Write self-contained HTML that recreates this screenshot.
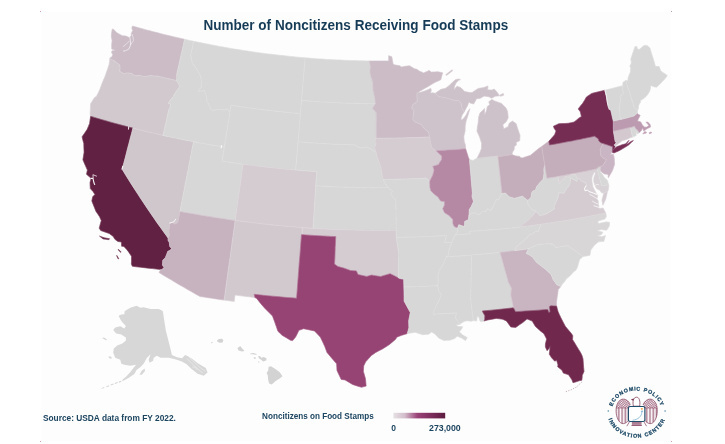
<!DOCTYPE html>
<html><head><meta charset="utf-8"><title>Number of Noncitizens Receiving Food Stamps</title>
<style>
html,body{margin:0;padding:0;background:#fff;}
body{width:725px;height:444px;overflow:hidden;position:relative;font-family:"Liberation Sans",sans-serif;}
#map{position:absolute;left:0;top:0;will-change:transform;}
#states use{stroke-width:0.6;stroke-linejoin:round;}
text{font-family:"Liberation Sans",sans-serif;font-weight:bold;}
</style></head><body>
<svg id="map" width="725" height="444" viewBox="0 0 725 444">
<defs>
<linearGradient id="lg" x1="0" x2="1" y1="0" y2="0">
<stop offset="0" stop-color="#e6e1e4"/><stop offset="0.22" stop-color="#d3bdcb"/><stop offset="0.46" stop-color="#9a4378"/><stop offset="0.75" stop-color="#7a2c5a"/><stop offset="1" stop-color="#5c1b3f"/>
</linearGradient>
</defs>
<rect x="41" y="11.8" width="630" height="429.4" fill="#fdfdfd"/>
<rect x="40" y="11" width="1" height="1" fill="#d9a0b8"/><rect x="671" y="11" width="1" height="1" fill="#b9a0a8"/><rect x="671" y="441" width="1" height="1" fill="#d9a0b8"/><rect x="40" y="441" width="1" height="1" fill="#d9a0b8"/>
<g id="states">
<defs><path id="sWA" d="M132.6,26.0L131.8,28.0L132.7,30.4L131.2,33.6L131.3,35.8L129.1,37.5L125.8,36.0L122.4,35.7L119.9,34.4L117.3,33.1L115.4,31.2L113.5,29.3L112.3,29.0L111.6,32.8L111.3,36.4L112.1,40.3L111.7,44.6L111.7,49.0L114.4,49.8L114.4,50.8L111.9,50.8L111.7,53.0L112.8,54.4L111.8,57.0L110.5,57.4L109.8,58.9L112.1,59.8L114.4,60.8L117.3,63.1L119.8,65.0L120.1,68.3L119.6,71.1L121.6,72.3L123.5,73.5L127.8,72.9L129.8,73.2L131.8,73.4L134.3,75.6L137.1,75.5L139.9,75.4L142.1,76.0L144.2,76.6L147.4,76.1L150.6,75.5L154.0,76.1L156.8,75.9L160.1,76.7L163.4,77.5L166.7,78.2L170.0,79.0L173.2,79.8L176.5,80.5L176.7,78.4L176.7,76.2L176.7,74.5L177.8,69.4L179.0,64.4L180.1,59.4L181.2,54.3L182.4,49.3L183.5,44.3L184.6,39.3L181.2,38.5L177.7,37.7L174.2,36.9L170.7,36.1L167.2,35.2L163.7,34.4L160.3,33.5L156.8,32.6L153.3,31.7L149.9,30.8L146.4,29.9L142.9,28.9L139.5,28.0L136.0,27.0Z"/>
<path id="sOR" d="M109.8,58.9L112.1,59.8L114.4,60.8L117.3,63.1L119.8,65.0L120.1,68.3L119.6,71.1L121.6,72.3L123.5,73.5L127.8,72.9L129.8,73.2L131.8,73.4L134.3,75.6L137.1,75.5L139.9,75.4L142.1,76.0L144.2,76.6L147.4,76.1L150.6,75.5L154.0,76.1L156.8,75.9L160.1,76.7L163.4,77.5L166.7,78.2L170.0,79.0L173.2,79.8L176.5,80.5L178.2,83.0L179.7,86.5L176.3,91.4L174.0,94.8L173.2,96.5L170.7,99.8L168.2,103.2L170.6,104.4L170.0,107.5L168.7,110.1L167.6,115.1L166.5,120.2L165.3,125.2L164.2,130.3L163.0,135.4L159.2,134.5L155.5,133.6L151.7,132.7L147.9,131.9L144.2,130.9L140.4,130.0L136.6,129.1L132.9,128.1L129.0,127.1L125.2,126.1L121.3,125.1L117.5,124.0L113.6,123.0L109.8,121.9L105.9,120.8L102.1,119.7L98.2,118.6L94.4,117.4L90.6,116.3L90.1,113.9L90.4,109.5L90.6,103.8L92.4,101.0L94.1,98.1L96.7,95.9L98.3,92.7L99.8,89.5L101.3,85.5L102.8,81.5L105.1,76.3L106.2,73.0L107.4,69.7L109.2,64.3L109.8,58.9Z"/>
<path id="sCA" d="M90.6,116.3L90.1,119.8L89.6,123.4L88.4,126.4L87.2,129.3L84.7,133.1L82.1,136.8L82.9,140.2L83.8,143.6L83.9,147.9L84.1,152.3L83.5,156.0L82.9,159.8L85.1,164.9L87.4,170.1L86.5,174.3L88.8,176.3L91.1,178.3L90.0,182.7L90.3,188.6L93.0,191.5L94.9,194.4L92.7,196.8L91.8,200.9L93.9,206.2L96.0,211.4L97.8,214.1L99.6,216.8L101.3,220.6L100.2,224.4L99.2,228.2L100.7,230.5L104.9,232.0L109.2,233.5L111.2,234.9L113.2,236.4L114.9,239.3L117.9,241.5L121.4,242.0L121.6,246.2L123.9,246.4L126.5,249.3L128.6,251.9L131.5,256.3L131.5,261.4L131.4,264.0L132.3,266.2L136.4,266.8L140.4,267.2L144.5,267.7L148.5,268.2L152.6,268.6L156.6,269.1L160.7,269.5L161.9,269.6L164.1,267.6L162.4,265.1L162.8,260.1L165.3,257.7L166.6,254.5L167.8,251.3L169.5,250.6L171.7,248.8L169.7,246.3L169.3,242.6L168.0,240.2L168.1,238.0L164.6,233.2L161.1,228.3L157.6,223.5L154.2,218.6L150.9,213.7L147.5,208.8L144.3,203.9L141.0,199.0L137.8,194.1L134.6,189.2L131.4,184.2L128.3,179.3L125.2,174.3L122.2,169.3L123.5,164.2L124.9,159.0L126.2,153.9L127.5,148.7L128.9,143.6L130.2,138.4L131.6,133.3L132.9,128.1L129.0,127.1L125.2,126.1L121.3,125.1L117.5,124.0L113.6,123.0L109.8,121.9L105.9,120.8L102.1,119.7L98.2,118.6L94.4,117.4ZM99.5,236.1L102.0,237.0L104.4,237.8L107.0,238.3L109.6,238.7L108.8,239.7L105.9,239.3L103.0,238.9ZM118.4,249.2L121.1,252.0L120.7,252.4L118.3,249.9ZM116.9,255.4L118.8,258.7L118.2,259.0L116.6,255.7Z"/>
<path id="sNV" d="M132.9,128.1L136.6,129.1L140.4,130.0L144.2,130.9L147.9,131.9L151.7,132.7L155.5,133.6L159.2,134.5L163.0,135.4L166.8,136.2L170.6,137.0L174.5,137.8L178.3,138.6L182.1,139.4L185.9,140.2L189.7,140.9L193.6,141.7L192.5,147.0L191.5,152.4L190.4,157.8L189.4,163.1L188.4,168.5L187.3,173.8L186.3,179.2L185.2,184.6L184.2,189.9L183.1,195.3L182.1,200.7L181.0,206.0L180.0,211.4L179.3,215.2L178.5,218.9L177.8,222.7L174.7,224.1L172.2,222.2L169.7,223.6L169.7,226.0L168.9,230.9L169.3,235.4L168.1,238.0L164.6,233.2L161.1,228.3L157.6,223.5L154.2,218.6L150.9,213.7L147.5,208.8L144.3,203.9L141.0,199.0L137.8,194.1L134.6,189.2L131.4,184.2L128.3,179.3L125.2,174.3L122.2,169.3L123.5,164.2L124.9,159.0L126.2,153.9L127.5,148.7L128.9,143.6L130.2,138.4L131.6,133.3Z"/>
<path id="sID" d="M184.6,39.3L187.7,40.0L190.7,40.7L193.7,41.3L192.7,45.9L191.7,50.6L190.7,55.2L191.5,59.1L192.3,63.1L193.9,65.2L195.5,67.3L198.1,71.7L200.8,76.4L201.2,79.9L201.2,83.5L201.5,87.1L199.1,89.2L198.2,91.3L201.3,91.0L204.4,90.7L205.3,93.6L206.7,96.7L206.8,101.5L208.7,104.1L210.6,108.9L211.8,110.5L214.7,109.9L217.7,109.3L221.7,109.7L225.7,110.0L226.2,108.6L228.0,109.4L229.9,112.6L229.1,117.5L228.3,122.4L227.5,127.3L226.7,132.3L225.9,137.2L225.1,142.1L224.3,147.1L220.5,146.4L216.6,145.8L212.8,145.2L208.9,144.5L205.1,143.8L201.2,143.1L197.4,142.4L193.6,141.7L189.7,140.9L185.9,140.2L182.1,139.4L178.3,138.6L174.5,137.8L170.6,137.0L166.8,136.2L163.0,135.4L164.2,130.3L165.3,125.2L166.5,120.2L167.6,115.1L168.7,110.1L170.0,107.5L170.6,104.4L168.2,103.2L170.7,99.8L173.2,96.5L174.0,94.8L176.3,91.4L179.7,86.5L178.2,83.0L176.5,80.5L176.7,78.4L176.7,76.2L176.7,74.5L177.8,69.4L179.0,64.4L180.1,59.4L181.2,54.3L182.4,49.3L183.5,44.3Z"/>
<path id="sMT" d="M193.7,41.3L192.7,45.9L191.7,50.6L190.7,55.2L191.5,59.1L192.3,63.1L193.9,65.2L195.5,67.3L198.1,71.7L200.8,76.4L201.2,79.9L201.2,83.5L201.5,87.1L199.1,89.2L198.2,91.3L201.3,91.0L204.4,90.7L205.3,93.6L206.7,96.7L206.8,101.5L208.7,104.1L210.6,108.9L211.8,110.5L214.7,109.9L217.7,109.3L221.7,109.7L225.7,110.0L226.2,108.6L228.0,109.4L229.9,112.6L230.4,108.9L231.0,105.2L234.9,105.8L238.7,106.4L242.6,106.9L246.4,107.5L250.2,108.0L254.1,108.6L257.9,109.1L261.8,109.6L265.7,110.0L269.5,110.5L273.4,110.9L277.2,111.4L281.1,111.8L285.0,112.2L288.8,112.6L292.7,112.9L296.6,113.3L300.4,113.6L300.9,108.0L301.4,102.4L301.9,96.8L302.3,91.2L302.8,85.6L303.3,80.0L303.8,74.5L304.2,68.9L304.7,63.4L305.2,57.8L301.4,57.5L297.7,57.2L294.0,56.8L290.2,56.4L286.5,56.0L282.7,55.6L279.0,55.2L275.3,54.8L271.5,54.3L267.8,53.9L264.1,53.4L260.4,52.9L256.6,52.4L252.9,51.9L249.2,51.3L245.5,50.8L241.8,50.2L238.1,49.6L234.3,49.0L230.6,48.4L226.9,47.7L223.2,47.1L219.5,46.4L215.8,45.7L212.2,45.0L208.5,44.3L204.8,43.6L201.1,42.8L197.4,42.1Z"/>
<path id="sWY" d="M231.0,105.2L234.9,105.8L238.7,106.4L242.6,106.9L246.4,107.5L250.2,108.0L254.1,108.6L257.9,109.1L261.8,109.6L265.7,110.0L269.5,110.5L273.4,110.9L277.2,111.4L281.1,111.8L285.0,112.2L288.8,112.6L292.7,112.9L296.6,113.3L300.4,113.6L300.0,119.2L299.5,124.9L299.0,130.5L298.5,136.1L298.0,141.8L297.5,147.4L297.1,153.0L296.6,158.7L296.1,164.3L295.6,170.0L291.5,169.6L287.4,169.3L283.3,168.9L279.2,168.5L275.1,168.1L271.0,167.6L266.9,167.2L262.8,166.7L258.8,166.2L254.7,165.7L250.6,165.2L246.5,164.6L242.4,164.1L238.4,163.5L234.3,162.9L230.2,162.3L226.1,161.7L222.1,161.1L223.0,155.5L223.9,149.9L224.8,144.3L225.7,138.7L226.6,133.1L227.5,127.5L228.4,121.9L229.2,116.3L230.1,110.8Z"/>
<path id="sUT" d="M193.6,141.7L197.4,142.4L201.2,143.1L205.1,143.8L208.9,144.5L212.8,145.2L216.6,145.8L220.5,146.4L224.3,147.1L223.6,151.7L222.8,156.4L222.1,161.1L226.2,161.7L230.4,162.4L234.6,163.0L238.8,163.6L243.0,164.2L242.2,169.8L241.4,175.4L240.7,181.0L239.9,186.7L239.1,192.3L238.3,197.9L237.5,203.6L236.8,209.2L236.0,214.8L235.2,220.4L230.9,219.9L226.7,219.2L222.4,218.6L218.2,218.0L213.9,217.3L209.7,216.6L205.4,215.9L201.2,215.2L196.9,214.5L192.7,213.7L188.5,213.0L184.2,212.2L180.0,211.4L181.0,206.0L182.1,200.7L183.1,195.3L184.2,189.9L185.2,184.6L186.3,179.2L187.3,173.8L188.4,168.5L189.4,163.1L190.4,157.8L191.5,152.4L192.5,147.0Z"/>
<path id="sCO" d="M243.0,164.2L247.1,164.7L251.2,165.3L255.3,165.8L259.3,166.3L263.4,166.8L267.5,167.2L271.6,167.7L275.7,168.1L279.8,168.5L283.9,168.9L288.0,169.3L292.1,169.7L296.2,170.1L300.3,170.4L304.4,170.7L308.5,171.0L312.6,171.3L316.7,171.6L316.4,177.2L316.0,182.9L315.6,188.6L315.3,194.2L314.9,199.9L314.6,205.6L314.2,211.2L313.8,216.9L313.5,222.6L313.1,228.3L308.8,228.0L304.4,227.7L300.1,227.4L295.7,227.0L291.4,226.7L287.1,226.3L282.7,225.9L278.4,225.5L274.1,225.1L269.7,224.6L265.4,224.2L261.1,223.7L256.8,223.2L252.5,222.7L248.1,222.1L243.8,221.6L239.5,221.0L235.2,220.4L236.0,214.8L236.8,209.2L237.5,203.6L238.3,197.9L239.1,192.3L239.9,186.7L240.7,181.0L241.4,175.4L242.2,169.8Z"/>
<path id="sAZ" d="M180.0,211.4L184.2,212.2L188.5,213.0L192.7,213.7L196.9,214.5L201.2,215.2L205.4,215.9L209.7,216.6L213.9,217.3L218.2,218.0L222.4,218.6L226.7,219.2L230.9,219.9L235.2,220.4L234.5,225.8L233.7,231.1L233.0,236.4L232.2,241.7L231.5,247.0L230.8,252.3L230.0,257.7L229.3,263.0L228.5,268.3L227.8,273.6L227.1,278.9L226.3,284.2L225.6,289.5L224.9,294.8L224.1,300.1L220.1,299.5L216.1,298.9L212.1,298.3L208.1,297.7L204.1,297.1L200.1,296.5L195.9,294.2L191.7,291.8L187.6,289.5L183.5,287.1L179.3,284.7L175.2,282.3L171.2,279.8L167.1,277.4L163.0,275.0L159.0,272.5L160.7,269.5L161.9,269.6L164.1,267.6L162.4,265.1L162.8,260.1L165.3,257.7L166.6,254.5L167.8,251.3L169.5,250.6L171.7,248.8L169.7,246.3L169.3,242.6L168.0,240.2L168.1,238.0L169.3,235.4L168.9,230.9L169.7,226.0L169.7,223.6L172.2,222.2L174.7,224.1L177.8,222.7L178.5,218.9L179.3,215.2Z"/>
<path id="sNM" d="M235.2,220.4L239.4,221.0L243.6,221.6L247.8,222.1L252.0,222.6L256.2,223.1L260.4,223.6L264.6,224.1L268.8,224.5L273.0,225.0L277.2,225.4L281.4,225.8L285.6,226.2L289.8,226.5L294.1,226.9L298.3,227.2L302.5,227.5L302.2,231.1L302.0,234.6L301.5,234.6L301.1,239.9L300.7,245.2L300.3,250.5L299.9,255.8L299.4,261.1L299.0,266.4L298.6,271.7L298.2,277.0L297.8,282.3L297.4,287.6L297.0,292.9L296.5,298.2L291.8,297.8L287.1,297.5L282.4,297.1L277.7,296.6L273.0,296.2L268.3,295.8L263.6,295.3L258.9,294.8L254.2,294.3L254.9,297.5L250.9,297.0L247.0,296.6L243.0,296.1L239.0,295.6L235.0,295.1L234.6,298.2L234.2,301.4L230.8,301.0L227.5,300.5L224.1,300.1L224.9,294.8L225.6,289.5L226.3,284.2L227.1,278.9L227.8,273.6L228.5,268.3L229.3,263.0L230.0,257.7L230.8,252.3L231.5,247.0L232.2,241.7L233.0,236.4L233.7,231.1L234.5,225.8Z"/>
<path id="sND" d="M305.2,57.8L308.7,58.1L312.3,58.4L315.8,58.7L319.4,58.9L322.9,59.1L326.5,59.4L330.1,59.6L333.6,59.8L337.2,59.9L340.7,60.1L344.3,60.3L347.8,60.4L351.4,60.5L355.0,60.6L358.5,60.7L362.1,60.8L365.6,60.9L369.2,60.9L370.3,66.5L369.8,72.1L370.7,76.3L372.6,81.9L372.8,86.1L373.0,90.3L373.9,94.5L374.9,98.7L375.2,103.8L371.4,103.7L367.5,103.7L363.6,103.6L359.7,103.5L355.8,103.4L351.9,103.3L348.1,103.2L344.2,103.1L340.3,102.9L336.4,102.7L332.5,102.5L328.7,102.3L324.8,102.1L320.9,101.9L317.0,101.6L313.2,101.3L309.3,101.1L305.4,100.8L301.6,100.4L302.0,95.1L302.5,89.7L302.9,84.4L303.4,79.1L303.8,73.7L304.3,68.4L304.7,63.1Z"/>
<path id="sSD" d="M301.6,100.4L305.4,100.8L309.3,101.1L313.2,101.3L317.0,101.6L320.9,101.9L324.8,102.1L328.7,102.3L332.5,102.5L336.4,102.7L340.3,102.9L344.2,103.1L348.1,103.2L351.9,103.3L355.8,103.4L359.7,103.5L363.6,103.6L367.5,103.7L371.4,103.7L375.2,103.8L372.3,108.5L376.3,112.8L376.3,117.8L376.2,122.9L376.2,128.0L376.2,133.1L376.2,138.2L374.8,141.0L376.1,143.8L374.6,147.4L376.1,152.3L373.5,150.9L370.4,148.7L368.4,147.9L366.3,147.0L363.7,147.4L361.1,147.9L357.1,146.4L355.0,144.9L351.0,144.8L346.9,144.7L342.8,144.5L338.7,144.4L334.7,144.2L330.6,144.0L326.5,143.8L322.4,143.5L318.4,143.3L314.3,143.0L310.2,142.7L306.2,142.4L302.1,142.1L298.0,141.8L298.5,136.6L298.9,131.4L299.4,126.2L299.8,121.1L300.2,115.9L300.7,110.7L301.1,105.6Z"/>
<path id="sNE" d="M298.0,141.8L302.1,142.1L306.2,142.4L310.2,142.7L314.3,143.0L318.4,143.3L322.4,143.5L326.5,143.8L330.6,144.0L334.7,144.2L338.7,144.4L342.8,144.5L346.9,144.7L351.0,144.8L355.0,144.9L357.1,146.4L361.1,147.9L363.7,147.4L366.3,147.0L368.4,147.9L370.4,148.7L373.5,150.9L376.1,152.3L377.1,156.6L378.4,160.1L379.7,163.7L380.6,166.8L381.5,169.9L381.9,173.2L382.3,176.4L383.2,179.5L385.6,184.2L388.2,187.8L383.9,187.8L379.6,187.8L375.4,187.8L371.1,187.7L366.9,187.7L362.6,187.6L358.4,187.5L354.1,187.4L349.8,187.3L345.6,187.2L341.3,187.0L337.1,186.9L332.8,186.7L328.6,186.5L324.3,186.2L320.1,186.0L315.8,185.7L316.1,181.0L316.4,176.3L316.7,171.6L312.5,171.3L308.3,171.0L304.1,170.7L299.8,170.3L295.6,170.0L296.1,164.3L296.6,158.7L297.1,153.0L297.5,147.4Z"/>
<path id="sKS" d="M315.8,185.7L320.1,186.0L324.3,186.2L328.6,186.5L332.8,186.7L337.1,186.9L341.3,187.0L345.6,187.2L349.8,187.3L354.1,187.4L358.4,187.5L362.6,187.6L366.9,187.7L371.1,187.7L375.4,187.8L379.6,187.8L383.9,187.8L388.2,187.8L390.4,189.5L392.6,191.3L390.5,194.1L392.7,196.9L395.9,200.3L395.9,205.3L396.0,210.3L396.0,215.3L396.1,220.3L396.1,225.3L396.2,230.3L391.8,230.3L387.4,230.4L383.1,230.4L378.7,230.4L374.3,230.4L369.9,230.3L365.6,230.3L361.2,230.2L356.8,230.1L352.4,230.0L348.1,229.9L343.7,229.8L339.3,229.6L334.9,229.4L330.6,229.2L326.2,229.0L321.8,228.8L317.5,228.5L313.1,228.3L313.4,222.9L313.8,217.6L314.1,212.3L314.5,207.0L314.8,201.7L315.1,196.4L315.5,191.0Z"/>
<path id="sOK" d="M302.5,227.5L307.0,227.9L311.4,228.2L315.9,228.4L320.3,228.7L324.8,228.9L329.2,229.2L333.7,229.4L338.2,229.6L342.6,229.7L347.1,229.9L351.5,230.0L356.0,230.1L360.5,230.2L364.9,230.3L369.4,230.3L373.9,230.4L378.3,230.4L382.8,230.4L387.3,230.4L391.7,230.3L396.2,230.3L396.2,233.8L396.3,237.4L397.1,242.6L397.9,247.8L398.7,253.0L398.7,258.0L398.6,263.0L398.6,268.0L398.6,273.0L398.5,278.0L394.3,275.8L390.1,273.7L386.6,274.7L383.7,275.6L380.8,276.5L377.2,276.0L373.8,275.4L371.4,275.1L369.1,275.8L366.7,276.4L362.4,275.5L358.0,274.5L356.4,270.9L353.4,270.7L350.5,270.5L347.1,269.3L343.7,268.1L340.8,267.3L337.9,266.5L334.5,264.1L334.8,258.6L335.0,253.1L335.2,247.6L335.5,242.1L335.7,236.6L331.5,236.4L327.3,236.2L323.0,236.0L318.8,235.7L314.6,235.5L310.4,235.2L306.2,234.9L302.0,234.6L302.2,231.1Z"/>
<path id="sTX" d="M301.5,234.6L305.8,234.9L310.1,235.2L314.3,235.5L318.6,235.7L322.9,236.0L327.2,236.2L331.4,236.4L335.7,236.6L335.5,242.1L335.2,247.6L335.0,253.1L334.8,258.6L334.5,264.1L337.9,266.5L340.8,267.3L343.7,268.1L347.1,269.3L350.5,270.5L353.4,270.7L356.4,270.9L358.0,274.5L362.4,275.5L366.7,276.4L369.1,275.8L371.4,275.1L373.8,275.4L377.2,276.0L380.8,276.5L383.7,275.6L386.6,274.7L390.1,273.7L394.3,275.8L398.5,278.0L401.2,278.8L403.7,279.1L403.8,283.0L403.9,286.9L404.0,291.6L404.1,296.4L404.1,301.1L407.1,306.7L408.7,309.6L410.3,312.5L409.5,316.6L408.7,320.7L408.8,324.3L408.9,327.8L408.1,330.7L407.3,333.6L404.5,334.4L401.7,335.3L399.2,336.2L396.8,337.2L395.6,339.3L392.5,341.9L389.4,344.6L385.7,346.9L382.0,349.2L378.9,350.8L375.8,352.4L371.4,355.5L368.2,359.0L365.7,361.8L363.7,365.9L363.4,371.5L364.4,375.0L365.4,378.5L365.8,382.3L366.1,386.1L361.5,387.3L357.0,385.9L352.5,384.4L348.8,382.2L345.0,379.9L341.2,379.4L339.1,375.0L337.0,370.6L336.8,367.2L336.6,363.8L331.8,358.2L327.0,352.5L325.9,349.5L324.8,346.5L322.6,341.8L320.3,337.1L317.4,334.0L314.5,330.9L310.9,330.2L307.2,329.4L303.6,328.7L298.9,330.3L297.3,333.7L295.6,337.0L292.7,340.6L290.4,340.2L286.3,337.7L282.1,335.3L277.9,331.2L276.3,326.6L274.7,321.9L273.6,319.0L272.5,316.0L268.8,312.3L265.0,308.5L260.8,303.7L256.7,298.4L254.9,297.5L254.2,294.3L258.9,294.8L263.6,295.3L268.3,295.8L273.0,296.2L277.7,296.6L282.4,297.1L287.1,297.5L291.8,297.8L296.5,298.2L297.0,292.9L297.4,287.6L297.8,282.3L298.2,277.0L298.6,271.7L299.0,266.4L299.4,261.1L299.9,255.8L300.3,250.5L300.7,245.2L301.1,239.9Z"/>
<path id="sMN" d="M369.2,60.9L372.4,61.0L375.7,61.0L379.0,61.0L382.2,61.0L385.5,61.0L388.7,61.0L388.7,55.7L391.8,56.8L392.4,60.2L393.1,63.7L394.0,64.8L396.8,65.2L399.6,65.7L401.6,67.0L405.3,66.2L407.5,66.0L409.6,65.8L412.0,67.3L414.4,68.7L416.8,69.3L419.7,71.3L421.7,72.1L423.6,72.9L426.4,71.7L429.2,70.4L431.2,72.1L434.6,71.9L437.9,71.7L440.3,72.3L442.7,72.8L441.8,75.7L440.8,79.7L438.2,80.9L435.7,82.1L432.9,83.6L430.2,85.2L427.8,86.7L425.3,88.1L422.8,89.5L420.3,90.9L418.7,92.1L416.9,93.0L417.0,97.1L417.2,101.2L416.6,102.0L414.7,103.2L412.8,104.5L411.6,108.1L414.0,110.8L413.2,115.0L412.8,120.0L415.9,122.4L418.5,123.5L421.1,124.6L424.3,128.7L426.4,130.4L428.5,132.1L429.5,137.0L425.7,137.1L421.9,137.3L418.1,137.5L414.3,137.6L410.5,137.7L406.7,137.8L402.9,137.9L399.0,138.0L395.2,138.1L391.4,138.1L387.6,138.2L383.8,138.2L380.0,138.2L376.2,138.2L376.2,133.1L376.2,128.0L376.2,122.9L376.3,117.8L376.3,112.8L372.3,108.5L375.2,103.8L374.9,98.7L373.9,94.5L373.0,90.3L372.8,86.1L372.6,81.9L370.7,76.3L369.8,72.1L370.3,66.5L369.2,60.9Z"/>
<path id="sIA" d="M376.2,138.2L380.0,138.2L383.8,138.2L387.6,138.2L391.4,138.1L395.2,138.1L399.0,138.0L402.9,137.9L406.7,137.8L410.5,137.7L414.3,137.6L418.1,137.5L421.9,137.3L425.7,137.1L429.5,137.0L429.9,139.1L430.6,143.3L431.8,147.5L436.2,150.8L438.9,153.5L441.7,156.1L441.6,159.7L440.4,161.2L438.5,164.6L435.7,165.4L432.8,166.3L434.1,170.1L432.8,175.1L431.2,178.2L429.7,181.2L426.2,178.1L422.3,178.3L418.4,178.5L414.5,178.7L410.6,178.8L406.7,179.0L402.8,179.1L398.8,179.2L394.9,179.3L391.0,179.4L387.1,179.5L383.2,179.5L382.3,176.4L381.9,173.2L381.5,169.9L380.6,166.8L379.7,163.7L378.4,160.1L377.1,156.6L376.1,152.3L374.6,147.4L376.1,143.8L374.8,141.0L376.2,138.2Z"/>
<path id="sMO" d="M383.2,179.5L387.1,179.5L391.0,179.4L394.9,179.3L398.8,179.2L402.8,179.1L406.7,179.0L410.6,178.8L414.5,178.7L418.4,178.5L422.3,178.3L426.2,178.1L429.7,181.2L429.8,184.4L430.0,187.6L430.8,190.8L434.3,194.2L437.9,196.9L440.6,201.0L444.5,201.7L444.4,205.3L442.7,208.7L444.6,212.8L449.0,215.4L452.8,219.4L452.9,223.7L454.2,226.5L457.6,227.9L457.1,232.7L454.8,235.0L453.8,237.9L452.1,242.3L448.3,242.5L444.6,242.7L445.6,239.1L446.6,235.5L442.4,235.7L438.2,236.0L434.0,236.2L429.8,236.4L425.7,236.6L421.5,236.7L417.3,236.9L413.1,237.0L408.9,237.1L404.7,237.2L400.5,237.3L396.3,237.4L396.2,233.8L396.2,230.3L396.1,225.3L396.1,220.3L396.0,215.3L396.0,210.3L395.9,205.3L395.9,200.3L392.7,196.9L390.5,194.1L392.6,191.3L390.4,189.5L388.2,187.8L385.6,184.2L383.2,179.5Z"/>
<path id="sAR" d="M396.3,237.4L400.5,237.3L404.7,237.2L408.9,237.1L413.1,237.0L417.3,236.9L421.5,236.7L425.7,236.6L429.8,236.4L434.0,236.2L438.2,236.0L442.4,235.7L446.6,235.5L445.6,239.1L444.6,242.7L448.3,242.5L452.1,242.3L449.7,248.1L448.2,252.5L448.7,254.9L446.2,256.9L444.8,260.5L443.4,264.1L439.4,270.0L438.0,275.8L438.2,280.0L437.7,285.7L433.4,285.9L429.2,286.1L425.0,286.3L420.8,286.4L416.5,286.6L412.3,286.7L408.1,286.8L403.9,286.9L403.8,283.0L403.7,279.1L401.2,278.8L398.5,278.0L398.6,273.0L398.6,268.0L398.6,263.0L398.7,258.0L398.7,253.0L397.9,247.8L397.1,242.6L396.3,237.4Z"/>
<path id="sLA" d="M403.9,286.9L408.1,286.8L412.3,286.7L416.5,286.6L420.8,286.4L425.0,286.3L429.2,286.1L433.4,285.9L437.7,285.7L438.8,291.3L441.3,294.7L439.2,299.8L437.6,303.0L436.0,306.2L433.8,311.4L433.6,314.2L438.1,314.0L442.7,313.8L447.3,313.5L451.9,313.2L456.5,312.9L455.3,317.7L457.7,321.4L459.8,324.3L456.4,325.0L457.7,326.3L460.2,326.5L462.7,326.7L461.6,328.9L459.3,331.8L462.7,335.1L467.2,337.6L465.5,340.6L461.6,338.0L457.2,336.2L454.8,338.5L452.4,339.3L450.0,340.2L446.9,340.3L443.8,340.5L438.7,338.0L434.8,333.9L431.7,331.9L428.7,334.2L425.6,334.5L422.6,334.7L418.8,333.5L415.1,332.3L411.2,332.9L407.3,333.6L408.1,330.7L408.9,327.8L408.8,324.3L408.7,320.7L409.5,316.6L410.3,312.5L408.7,309.6L407.1,306.7L404.1,301.1L404.1,296.4L404.0,291.6Z"/>
<path id="sWI" d="M435.2,93.3L432.4,92.8L430.5,93.2L431.3,90.3L430.7,88.3L428.3,89.5L426.4,90.3L424.5,91.1L422.1,91.8L419.7,92.6L418.7,92.1L416.9,93.0L417.0,97.1L417.2,101.2L416.6,102.0L414.7,103.2L412.8,104.5L411.6,108.1L414.0,110.8L413.2,115.0L412.8,120.0L415.9,122.4L418.5,123.5L421.1,124.6L424.3,128.7L426.4,130.4L428.5,132.1L429.5,137.0L429.9,139.1L430.6,143.3L431.8,147.5L436.2,150.8L439.8,150.6L443.5,150.4L447.2,150.1L450.9,149.9L454.6,149.7L458.3,149.4L462.0,149.1L465.6,148.8L465.5,145.4L464.2,141.3L463.8,136.2L465.1,131.0L465.2,126.0L466.2,120.8L467.8,115.9L468.9,112.3L469.9,108.7L467.9,111.2L466.2,115.0L463.5,118.4L461.1,120.3L461.1,117.9L462.2,114.9L464.2,111.9L462.1,108.6L461.0,103.0L458.5,100.8L455.0,100.4L451.5,99.8L448.4,98.5L445.1,97.8L441.7,97.1L438.3,96.4L435.2,93.3Z"/>
<path id="sIL" d="M436.2,150.8L438.9,153.5L441.7,156.1L441.6,159.7L440.4,161.2L438.5,164.6L435.7,165.4L432.8,166.3L434.1,170.1L432.8,175.1L431.2,178.2L429.7,181.2L429.8,184.4L430.0,187.6L430.8,190.8L434.3,194.2L437.9,196.9L440.6,201.0L444.5,201.7L444.4,205.3L442.7,208.7L444.6,212.8L449.0,215.4L452.8,219.4L452.9,223.7L454.2,226.5L457.6,227.9L458.8,224.7L461.1,225.5L463.4,226.2L464.5,226.1L464.7,221.4L468.4,219.7L468.9,215.4L469.1,213.9L469.3,209.6L471.2,206.6L473.5,201.4L472.0,196.6L472.4,193.0L471.9,187.4L471.4,181.8L470.9,176.3L470.4,170.7L469.9,165.1L469.4,159.6L469.5,159.6L468.5,157.7L467.1,153.2L465.6,148.8L462.0,149.1L458.3,149.4L454.6,149.7L450.9,149.9L447.2,150.1L443.5,150.4L439.8,150.6Z"/>
<path id="sIN" d="M469.5,159.6L470.0,165.1L470.5,170.7L471.0,176.3L471.4,181.8L471.9,187.4L472.4,193.0L472.0,196.6L473.5,201.4L471.2,206.6L469.3,209.6L469.1,213.9L468.9,215.4L471.3,213.9L473.7,212.5L476.4,213.6L479.1,214.7L482.2,211.7L485.5,211.7L487.4,208.6L490.9,210.4L493.3,206.3L494.8,202.9L496.4,199.5L498.6,199.6L502.0,193.5L501.4,188.2L500.8,183.0L500.3,177.7L499.7,172.5L499.1,167.3L498.5,162.0L497.9,156.8L497.8,155.9L494.3,156.4L490.8,156.7L487.3,157.1L483.8,157.5L480.3,157.9L476.8,158.2L473.0,160.4L469.5,159.6Z"/>
<path id="sMI" d="M511.9,154.6L512.6,152.1L514.1,149.7L514.4,146.4L516.4,145.1L516.3,142.3L519.7,140.8L520.0,135.3L518.1,129.9L517.1,126.8L516.2,123.7L512.5,121.1L509.2,123.3L508.1,126.7L506.0,127.7L503.8,128.7L502.8,124.8L504.6,123.2L506.4,121.5L508.2,117.7L507.9,114.5L507.6,111.4L506.0,108.0L501.5,103.4L498.1,102.2L494.7,101.0L491.8,99.5L488.8,101.7L489.7,104.7L487.3,106.5L486.4,111.1L484.6,114.6L484.6,111.5L484.6,108.4L482.3,110.7L479.9,113.1L478.6,117.2L478.2,122.7L477.4,127.0L477.0,131.3L478.3,134.1L479.6,137.0L480.6,140.2L481.6,143.3L481.4,148.6L479.7,152.9L477.4,157.6L476.8,158.2L480.3,157.9L483.8,157.5L487.3,157.1L490.8,156.7L494.3,156.4L497.8,155.9L497.9,156.8L501.4,156.3L504.9,155.7L508.4,155.2ZM435.2,93.3L438.1,91.3L441.0,89.3L443.3,88.8L445.6,88.3L449.0,85.7L452.1,82.6L455.7,79.5L458.8,79.0L460.4,79.6L458.3,80.6L456.0,83.0L454.4,86.7L454.1,89.4L457.0,86.2L461.0,87.8L464.6,91.4L467.3,92.0L470.1,92.6L472.0,92.6L475.1,90.5L478.2,88.4L480.5,88.1L482.8,87.8L485.4,86.9L488.0,85.9L487.6,89.8L489.8,89.9L491.9,90.0L494.2,89.0L497.1,92.2L499.6,95.8L497.3,96.0L495.1,96.2L491.7,98.2L488.8,96.7L486.5,96.4L484.2,96.1L482.1,97.2L480.0,98.4L476.6,98.7L473.7,104.0L469.8,102.9L469.0,101.9L467.4,106.0L466.5,107.5L464.2,111.9L462.1,108.6L461.0,103.0L458.5,100.8L455.0,100.4L451.5,99.8L448.4,98.5L445.1,97.8L441.7,97.1L438.3,96.4L435.2,93.3ZM445.7,74.7L448.9,72.2L452.1,69.8L452.6,70.7L449.7,73.0L446.8,75.3ZM500.0,95.1L503.2,93.5L503.9,95.1L500.6,96.3Z"/>
<path id="sOH" d="M497.9,156.8L501.4,156.3L504.9,155.7L508.4,155.2L511.9,154.6L515.8,156.0L519.8,156.4L520.2,157.5L522.4,157.9L526.5,156.6L530.5,155.3L533.3,152.9L536.2,150.6L539.0,148.2L541.7,146.6L542.4,151.3L543.2,156.0L544.0,160.7L544.8,165.4L543.9,169.0L544.0,173.7L543.2,179.2L540.7,181.8L538.3,184.5L536.8,186.3L535.3,190.4L532.7,191.1L531.5,193.3L531.3,196.8L529.0,199.7L527.4,200.2L524.9,198.2L522.4,196.2L518.4,197.3L514.4,198.4L511.8,197.6L509.3,196.9L505.5,193.1L502.0,193.5L501.4,188.2L500.8,183.0L500.3,177.7L499.7,172.5L499.1,167.3L498.5,162.0Z"/>
<path id="sKY" d="M527.4,200.2L524.9,198.2L522.4,196.2L518.4,197.3L514.4,198.4L511.8,197.6L509.3,196.9L505.5,193.1L502.0,193.5L498.6,199.6L496.4,199.5L494.8,202.9L493.3,206.3L490.9,210.4L487.4,208.6L485.5,211.7L482.2,211.7L479.1,214.7L476.4,213.6L473.7,212.5L471.3,213.9L468.9,215.4L468.4,219.7L464.7,221.4L464.5,226.1L463.4,226.2L461.1,225.5L458.8,224.7L457.6,227.9L457.1,232.7L454.8,235.0L458.6,234.7L462.4,234.4L466.2,234.1L470.0,233.8L469.8,231.3L474.2,231.0L478.6,230.7L483.0,230.4L487.4,230.1L490.7,229.8L494.1,229.6L497.5,229.3L500.8,229.1L504.5,228.7L508.1,228.3L511.7,228.0L515.3,227.6L519.0,227.2L521.9,225.0L524.9,222.8L529.0,219.4L531.0,217.4L532.9,215.5L536.0,211.3L532.1,209.6L528.0,204.4L527.4,200.2Z"/>
<path id="sTN" d="M519.0,227.2L515.3,227.6L511.7,228.0L508.1,228.3L504.5,228.7L500.8,229.1L497.5,229.3L494.1,229.6L490.7,229.8L487.4,230.1L483.0,230.4L478.6,230.7L474.2,231.0L469.8,231.3L470.0,233.8L466.2,234.1L462.4,234.4L458.6,234.7L454.8,235.0L453.8,237.9L452.1,242.3L449.7,248.1L448.2,252.5L448.7,254.9L446.2,256.9L450.2,256.6L454.2,256.3L458.2,256.1L462.2,255.8L466.3,255.5L470.3,255.1L474.5,254.8L478.8,254.4L483.0,254.0L487.3,253.6L491.5,253.2L495.8,252.8L500.0,252.3L503.7,251.9L507.3,251.5L511.0,251.1L514.6,250.6L517.1,246.0L520.0,243.7L522.9,241.4L524.9,239.6L527.0,237.8L528.9,235.1L532.2,234.0L536.4,231.2L538.2,231.7L539.4,228.6L541.2,224.2L536.8,224.8L532.3,225.4L527.9,226.0L523.4,226.6L519.0,227.2Z"/>
<path id="sMS" d="M446.2,256.9L450.2,256.6L454.2,256.3L458.2,256.1L462.2,255.8L466.3,255.5L470.3,255.1L471.5,256.5L471.4,261.8L471.3,267.2L471.2,272.5L471.1,277.8L471.0,283.2L470.9,288.5L470.8,293.8L470.7,299.2L471.3,304.5L471.9,309.9L472.6,315.3L473.2,320.6L471.4,321.2L467.1,320.8L464.7,321.3L462.4,322.4L459.8,324.3L457.7,321.4L455.3,317.7L456.5,312.9L451.9,313.2L447.3,313.5L442.7,313.8L438.1,314.0L433.6,314.2L433.8,311.4L436.0,306.2L437.6,303.0L439.2,299.8L441.3,294.7L438.8,291.3L437.7,285.7L438.2,280.0L438.0,275.8L439.4,270.0L443.4,264.1L444.8,260.5L446.2,256.9Z"/>
<path id="sAL" d="M470.3,255.1L474.5,254.8L478.8,254.4L483.0,254.0L487.3,253.6L491.5,253.2L495.8,252.8L500.0,252.3L501.4,257.2L502.7,262.1L504.1,267.1L505.5,272.0L506.9,276.9L508.2,281.8L509.8,284.9L511.4,288.1L511.1,291.7L510.8,295.3L512.0,300.8L512.7,304.3L513.4,307.8L509.0,308.3L504.5,308.8L500.0,309.3L495.6,309.7L491.1,310.2L486.6,310.6L482.2,311.0L484.8,315.7L484.7,319.2L484.0,321.0L481.3,321.7L480.0,321.1L478.8,316.9L477.2,316.4L476.7,321.1L473.2,320.6L472.6,315.3L471.9,309.9L471.3,304.5L470.7,299.2L470.8,293.8L470.9,288.5L471.0,283.2L471.1,277.8L471.2,272.5L471.3,267.2L471.4,261.8L471.5,256.5L470.3,255.1Z"/>
<path id="sGA" d="M500.0,252.3L503.7,251.9L507.3,251.5L511.0,251.1L514.6,250.6L518.1,250.2L521.6,249.7L525.0,249.3L528.5,248.8L526.2,253.4L529.4,255.1L532.5,256.9L536.2,262.1L541.5,266.3L544.8,268.7L547.9,271.5L551.0,274.2L553.1,279.6L556.9,284.8L560.8,286.6L558.2,289.6L557.7,293.9L557.1,297.6L556.5,302.0L556.6,306.1L553.8,305.9L551.0,305.7L549.4,306.6L550.1,311.9L548.7,312.3L547.7,309.4L543.2,309.8L538.6,310.2L534.0,310.5L529.4,310.8L524.8,311.1L520.2,311.4L515.6,311.7L513.4,307.8L512.7,304.3L512.0,300.8L510.8,295.3L511.1,291.7L511.4,288.1L509.8,284.9L508.2,281.8L506.9,276.9L505.5,272.0L504.1,267.1L502.7,262.1L501.4,257.2L500.0,252.3Z"/>
<path id="sFL" d="M482.2,311.0L486.6,310.6L491.1,310.2L495.6,309.7L500.0,309.3L504.5,308.8L509.0,308.3L513.4,307.8L515.6,311.7L520.2,311.4L524.8,311.1L529.4,310.8L534.0,310.5L538.6,310.2L543.2,309.8L547.7,309.4L548.7,312.3L550.1,311.9L549.4,306.6L551.0,305.7L553.8,305.9L556.6,306.1L557.3,308.9L558.1,311.7L559.3,314.4L560.5,317.1L562.9,321.7L565.3,326.3L568.4,330.0L571.6,333.8L572.8,335.8L572.5,339.4L574.7,342.9L576.8,346.5L578.6,349.4L580.4,352.3L582.0,355.5L583.0,358.9L583.3,363.1L583.6,367.3L584.0,371.5L582.3,375.3L582.1,378.1L581.8,380.3L579.3,380.7L575.6,382.0L573.0,382.7L571.9,379.8L568.5,374.7L563.3,373.1L562.0,370.2L557.6,366.7L558.0,365.0L556.6,360.2L554.8,361.2L551.8,358.1L549.3,354.2L549.6,351.3L550.1,346.3L549.7,347.8L547.1,350.7L545.4,347.0L545.4,344.1L546.6,339.0L543.9,333.7L540.4,330.9L535.4,326.4L532.2,321.1L529.6,320.0L527.0,318.9L523.1,322.3L519.4,324.8L515.7,327.4L510.8,327.0L508.6,323.9L506.4,320.9L502.5,319.2L499.4,318.8L496.3,318.4L492.1,319.2L487.9,319.9L484.0,321.0L484.7,319.2L484.8,315.7L482.2,311.0Z"/>
<path id="sSC" d="M528.5,248.8L532.9,246.8L537.2,244.7L540.8,244.4L544.4,244.0L548.0,243.7L551.6,243.3L551.8,244.7L552.9,243.8L555.0,245.9L555.1,247.5L559.4,246.9L563.6,246.2L567.9,245.6L573.0,249.2L578.0,252.9L583.1,256.4L579.5,259.7L578.5,263.3L577.5,267.0L576.0,270.1L573.4,272.0L570.4,275.4L566.2,279.0L564.8,281.4L562.4,283.9L560.8,286.6L556.9,284.8L553.1,279.6L551.0,274.2L547.9,271.5L544.8,268.7L541.5,266.3L536.2,262.1L532.5,256.9L529.4,255.1L526.2,253.4L528.5,248.8Z"/>
<path id="sNC" d="M514.6,250.6L517.1,246.0L520.0,243.7L522.9,241.4L524.9,239.6L527.0,237.8L528.9,235.1L532.2,234.0L536.4,231.2L538.2,231.7L539.4,228.6L541.2,224.2L545.6,223.6L549.9,222.9L554.2,222.3L558.5,221.6L562.8,220.9L567.1,220.2L571.4,219.5L575.7,218.7L580.0,218.0L584.3,217.2L588.5,216.4L592.8,215.6L597.1,214.7L601.4,213.9L605.7,213.0L606.4,216.5L604.9,219.0L601.3,220.1L597.8,221.2L598.3,223.6L602.2,222.8L606.1,221.9L609.6,222.3L609.3,226.0L606.7,230.2L604.0,229.9L601.3,229.5L597.4,230.7L600.2,231.4L603.0,232.2L601.2,234.7L597.3,235.8L601.6,236.8L605.5,235.6L604.8,237.9L603.8,241.4L601.1,241.6L598.5,241.8L596.5,243.4L594.5,245.0L590.8,250.1L589.9,255.3L586.5,255.9L583.1,256.4L578.0,252.9L573.0,249.2L567.9,245.6L563.6,246.2L559.4,246.9L555.1,247.5L555.0,245.9L552.9,243.8L551.8,244.7L551.6,243.3L548.0,243.7L544.4,244.0L540.8,244.4L537.2,244.7L532.9,246.8L528.5,248.8L525.0,249.3L521.6,249.7L518.1,250.2Z"/>
<path id="sVA" d="M519.0,227.2L521.9,225.0L524.9,222.8L529.0,219.4L531.0,217.4L532.9,215.5L536.0,211.3L539.9,215.6L542.4,215.0L544.8,214.4L548.8,212.4L552.4,210.1L554.4,209.0L554.0,206.5L556.5,201.0L558.1,197.3L558.9,192.7L561.3,193.0L563.7,193.3L566.8,188.5L569.7,184.7L570.2,181.3L570.6,177.9L574.6,180.0L577.0,181.4L577.6,178.6L579.8,178.8L580.8,180.8L583.6,182.0L585.2,182.7L586.4,184.4L585.2,187.2L584.4,189.1L585.4,191.1L587.4,190.0L588.9,191.8L593.1,193.1L597.6,195.3L597.1,198.8L598.1,200.8L598.8,206.5L599.7,208.5L603.1,208.0L605.7,213.0L601.4,213.9L597.1,214.7L592.8,215.6L588.5,216.4L584.3,217.2L580.0,218.0L575.7,218.7L571.4,219.5L567.1,220.2L562.8,220.9L558.5,221.6L554.2,222.3L549.9,222.9L545.6,223.6L541.2,224.2L536.8,224.8L532.3,225.4L527.9,226.0L523.4,226.6L519.0,227.2ZM603.8,193.1L602.9,196.5L601.9,200.0L602.9,205.3L605.7,199.2L606.6,195.4L607.4,191.5L608.0,191.0L605.9,192.0L603.8,193.1Z"/>
<path id="sWV" d="M544.8,165.4L543.9,169.0L544.0,173.7L543.2,179.2L540.7,181.8L538.3,184.5L536.8,186.3L535.3,190.4L532.7,191.1L531.5,193.3L531.3,196.8L529.0,199.7L527.4,200.2L528.0,204.4L532.1,209.6L536.0,211.3L539.9,215.6L542.4,215.0L544.8,214.4L548.8,212.4L552.4,210.1L554.4,209.0L554.0,206.5L556.5,201.0L558.1,197.3L558.9,192.7L561.3,193.0L563.7,193.3L566.8,188.5L569.7,184.7L570.2,181.3L570.6,177.9L574.6,180.0L577.0,181.4L577.6,178.6L576.5,177.2L575.9,174.8L571.8,174.2L570.2,175.5L569.3,177.1L567.7,177.2L565.8,176.0L564.1,179.4L562.9,179.0L560.9,181.9L559.1,183.7L558.5,180.1L557.9,176.4L554.3,177.0L550.6,177.7L546.9,178.3L546.2,174.0L545.5,169.7Z"/>
<path id="sMD" d="M557.9,176.4L558.5,180.1L559.1,183.7L560.9,181.9L562.9,179.0L564.1,179.4L565.8,176.0L567.7,177.2L569.3,177.1L570.2,175.5L571.8,174.2L575.9,174.8L576.5,177.2L577.6,178.6L579.8,178.8L580.8,180.8L583.6,182.0L585.2,182.7L586.4,184.4L585.2,187.2L584.4,189.1L585.4,191.1L587.4,190.0L588.9,191.8L593.1,193.1L597.6,195.3L596.3,193.3L594.5,190.0L592.9,186.7L592.4,183.7L591.9,180.8L592.0,177.1L594.3,172.3L595.6,173.0L594.0,177.0L593.6,181.0L594.9,185.5L596.7,188.8L599.8,190.3L601.5,192.8L603.8,193.1L605.9,192.0L608.0,191.0L608.8,186.4L608.7,184.7L605.2,185.4L601.7,186.1L600.5,181.8L599.4,177.5L598.2,173.1L597.0,168.8L593.1,169.6L589.2,170.4L585.3,171.2L581.4,172.0L577.5,172.8L573.6,173.5L569.7,174.3L565.8,175.0L561.9,175.7Z"/>
<path id="sDE" d="M597.0,168.8L598.2,173.1L599.4,177.5L600.5,181.8L601.7,186.1L605.2,185.4L608.7,184.7L607.2,179.9L604.4,177.7L602.5,174.4L600.3,172.0L599.8,169.9L600.7,166.8L598.6,166.7Z"/>
<path id="sPA" d="M541.7,146.6L543.6,145.1L545.6,143.5L548.8,141.3L549.4,145.0L553.2,144.4L557.0,143.7L560.8,143.0L564.5,142.3L568.3,141.6L572.1,140.9L575.8,140.1L579.6,139.4L583.4,138.6L587.1,137.8L590.9,137.0L594.6,136.2L598.2,138.8L598.9,141.1L600.9,142.8L603.2,143.6L601.7,146.3L600.0,150.0L600.7,151.6L600.5,155.3L602.6,157.7L606.4,159.7L603.4,164.8L600.7,166.8L598.6,166.7L597.0,168.8L592.8,169.7L588.7,170.6L584.5,171.4L580.3,172.2L576.2,173.1L572.0,173.8L567.8,174.6L563.6,175.4L559.5,176.1L555.3,176.9L551.1,177.6L546.9,178.3L546.0,173.0L545.1,167.7L544.3,162.4L543.4,157.2L542.5,151.9Z"/>
<path id="sNJ" d="M600.7,166.8L603.4,164.8L606.4,159.7L602.6,157.7L600.5,155.3L600.7,151.6L600.0,150.0L601.7,146.3L603.2,143.6L607.9,145.1L612.6,146.7L612.2,151.8L610.5,154.4L613.3,154.2L614.2,157.9L614.4,161.1L614.6,164.3L612.5,170.6L610.4,174.2L608.3,177.8L608.1,174.6L606.9,174.2L604.6,174.0L602.8,172.9L600.7,171.2L600.2,169.1L600.7,166.8Z"/>
<path id="sNY" d="M604.9,90.2L601.6,91.0L598.4,91.8L595.1,92.6L591.7,93.4L589.1,95.2L586.4,97.0L584.6,100.2L582.7,103.3L580.4,106.1L578.2,108.9L580.3,111.8L581.4,116.6L578.6,118.3L576.4,120.2L574.1,122.0L571.1,122.7L568.1,123.3L565.0,123.5L561.9,123.6L558.8,123.7L556.1,125.0L553.4,126.2L554.2,128.4L556.0,130.9L554.6,134.8L552.4,137.3L550.6,139.3L548.8,141.3L549.4,145.0L553.2,144.4L557.0,143.7L560.8,143.0L564.5,142.3L568.3,141.6L572.1,140.9L575.8,140.1L579.6,139.4L583.4,138.6L587.1,137.8L590.9,137.0L594.6,136.2L598.2,138.8L598.9,141.1L600.9,142.8L603.2,143.6L607.9,145.1L612.6,146.7L612.4,151.1L613.1,149.8L614.5,149.1L615.1,146.1L614.1,144.9L616.3,142.7L615.2,141.7L614.3,136.4L613.4,131.2L613.3,126.1L613.3,121.0L612.4,117.6L611.6,113.8L610.7,110.0L609.5,109.2L607.7,104.1L607.1,100.7L606.5,97.2L605.7,93.7L604.9,90.2ZM612.5,152.5L614.1,152.9L616.1,152.0L618.1,151.2L620.5,149.9L622.9,148.6L625.8,146.8L628.6,145.0L631.0,142.7L633.4,140.5L631.0,141.4L627.7,143.7L626.3,144.4L629.0,140.3L627.3,142.1L625.6,143.8L622.0,144.8L619.5,145.7L617.0,146.6L614.7,148.4L613.1,149.8L612.4,151.1Z"/>
<path id="sCT" d="M615.1,146.1L614.1,144.9L616.3,142.7L615.2,141.7L614.3,136.4L613.4,131.2L616.8,130.4L620.2,129.7L623.7,128.9L627.1,128.1L630.6,127.3L630.6,127.5L631.5,132.3L632.5,137.1L630.0,137.8L627.6,139.0L624.9,139.9L622.1,140.7L619.3,142.9L617.2,144.5L615.1,146.1Z"/>
<path id="sRI" d="M632.5,137.1L631.5,132.3L630.6,127.5L632.7,126.8L634.8,126.2L635.2,127.9L637.9,130.4L639.3,132.6L638.6,133.3L637.2,133.9L635.9,131.3L636.2,135.5L632.5,137.1Z"/>
<path id="sMA" d="M613.4,131.2L613.3,126.1L613.3,121.0L616.0,120.4L618.7,119.8L621.4,119.3L624.6,118.5L627.7,117.7L630.9,116.8L634.0,116.0L637.3,113.1L637.5,113.8L640.2,115.4L638.1,119.3L637.5,121.0L640.8,122.0L642.3,124.9L644.6,127.2L646.7,127.1L648.8,125.8L647.9,124.1L645.9,122.3L647.8,122.1L650.1,124.5L650.5,127.1L647.2,128.6L643.8,131.1L642.7,128.1L641.2,130.7L639.3,132.6L637.9,130.4L635.2,127.9L634.8,126.2L632.7,126.8L630.6,127.5L630.6,127.3L627.1,128.1L623.7,128.9L620.2,129.7L616.8,130.4ZM642.8,133.9L644.7,131.6L646.5,132.2L646.2,133.1ZM648.9,133.0L650.8,132.0L651.9,132.7L649.7,133.7Z"/>
<path id="sVT" d="M613.3,121.0L612.4,117.6L611.6,113.8L610.7,110.0L609.5,109.2L607.7,104.1L607.1,100.7L606.5,97.2L605.7,93.7L604.9,90.2L608.5,89.3L612.1,88.4L615.6,87.5L619.2,86.6L622.8,85.7L622.4,89.5L623.8,92.8L622.0,94.7L620.1,96.4L620.7,99.5L620.0,103.0L619.2,107.4L619.8,112.1L620.1,117.7L621.4,119.3L618.7,119.8L616.0,120.4L613.3,121.0Z"/>
<path id="sNH" d="M621.4,119.3L620.1,117.7L619.8,112.1L619.2,107.4L620.0,103.0L620.7,99.5L620.1,96.4L622.0,94.7L623.8,92.8L622.4,89.5L622.8,85.7L622.9,82.4L625.7,80.6L627.2,85.3L628.7,90.0L630.2,94.6L631.7,99.3L633.2,103.9L633.8,106.7L636.3,109.7L637.7,110.0L637.3,113.1L634.0,116.0L630.9,116.8L627.7,117.7L624.6,118.5L621.4,119.3Z"/>
<path id="sME" d="M625.7,80.6L628.1,80.7L627.9,78.6L629.4,74.3L630.4,72.1L630.7,67.6L629.8,66.4L631.4,62.8L630.8,58.9L632.9,52.7L635.0,46.6L636.8,46.5L637.5,49.0L639.2,49.5L641.6,47.5L644.0,45.4L647.0,45.4L649.9,47.9L651.4,53.0L653.0,58.0L654.5,63.1L655.4,66.3L659.2,66.6L660.6,70.6L662.5,72.3L666.4,74.7L667.3,75.8L665.6,77.9L663.8,80.0L661.9,82.0L659.9,84.1L658.6,85.2L656.6,87.3L653.8,86.7L650.8,85.4L650.3,89.2L649.5,91.6L648.0,93.9L646.5,96.1L644.0,98.3L642.0,99.6L640.0,100.9L640.8,102.0L639.4,103.7L638.6,105.7L638.4,108.7L637.7,110.0L636.3,109.7L633.8,106.7L633.2,103.9L631.7,99.3L630.2,94.6L628.7,90.0L627.2,85.3L625.7,80.6Z"/>
</defs>
<use href="#sWA" fill="#cbbcc6" stroke="#cbbcc6"/><use href="#sOR" fill="#d2c9ce" stroke="#d2c9ce"/><use href="#sCA" fill="#612142" stroke="#612142"/><use href="#sNV" fill="#d0c7cc" stroke="#d0c7cc"/><use href="#sID" fill="#d7d7d7" stroke="#d7d7d7"/><use href="#sMT" fill="#d7d7d7" stroke="#d7d7d7"/><use href="#sWY" fill="#d7d7d7" stroke="#d7d7d7"/><use href="#sUT" fill="#d7d7d7" stroke="#d7d7d7"/><use href="#sCO" fill="#d5ccd1" stroke="#d5ccd1"/><use href="#sAZ" fill="#c7b3bf" stroke="#c7b3bf"/><use href="#sNM" fill="#d2c9ce" stroke="#d2c9ce"/><use href="#sND" fill="#d7d7d7" stroke="#d7d7d7"/><use href="#sSD" fill="#d7d7d7" stroke="#d7d7d7"/><use href="#sNE" fill="#d7d7d7" stroke="#d7d7d7"/><use href="#sKS" fill="#d7d7d7" stroke="#d7d7d7"/><use href="#sOK" fill="#d5ccd1" stroke="#d5ccd1"/><use href="#sTX" fill="#964473" stroke="#964473"/><use href="#sMN" fill="#cbbcc6" stroke="#cbbcc6"/><use href="#sIA" fill="#d5ccd1" stroke="#d5ccd1"/><use href="#sMO" fill="#d7d7d7" stroke="#d7d7d7"/><use href="#sAR" fill="#d7d7d7" stroke="#d7d7d7"/><use href="#sLA" fill="#d7d7d7" stroke="#d7d7d7"/><use href="#sWI" fill="#cec3cb" stroke="#cec3cb"/><use href="#sIL" fill="#b588a4" stroke="#b588a4"/><use href="#sIN" fill="#d7d7d7" stroke="#d7d7d7"/><use href="#sMI" fill="#cec2ca" stroke="#cec2ca"/><use href="#sOH" fill="#c5aebb" stroke="#c5aebb"/><use href="#sKY" fill="#d7d7d7" stroke="#d7d7d7"/><use href="#sTN" fill="#d7d7d7" stroke="#d7d7d7"/><use href="#sMS" fill="#d7d7d7" stroke="#d7d7d7"/><use href="#sAL" fill="#d7d7d7" stroke="#d7d7d7"/><use href="#sGA" fill="#c9b5c1" stroke="#c9b5c1"/><use href="#sFL" fill="#70294d" stroke="#70294d"/><use href="#sSC" fill="#d7d7d7" stroke="#d7d7d7"/><use href="#sNC" fill="#d8d6d7" stroke="#d8d6d7"/><use href="#sVA" fill="#d5ccd1" stroke="#d5ccd1"/><use href="#sWV" fill="#d7d7d7" stroke="#d7d7d7"/><use href="#sMD" fill="#d8d1d5" stroke="#d8d1d5"/><use href="#sDE" fill="#d7d7d7" stroke="#d7d7d7"/><use href="#sPA" fill="#c5aebb" stroke="#c5aebb"/><use href="#sNJ" fill="#c9b5c3" stroke="#c9b5c3"/><use href="#sNY" fill="#752d54" stroke="#752d54"/><use href="#sCT" fill="#d3c9cf" stroke="#d3c9cf"/><use href="#sRI" fill="#d7d7d7" stroke="#d7d7d7"/><use href="#sMA" fill="#bc9ab0" stroke="#bc9ab0"/><use href="#sVT" fill="#d7d7d7" stroke="#d7d7d7"/><use href="#sNH" fill="#d7d7d7" stroke="#d7d7d7"/><use href="#sME" fill="#d7d7d7" stroke="#d7d7d7"/></g>
<g id="borders" fill="none" stroke="#fff" stroke-opacity="0.12" stroke-width="0.7"><use href="#sWA"/><use href="#sOR"/><use href="#sCA"/><use href="#sNV"/><use href="#sID"/><use href="#sMT"/><use href="#sWY"/><use href="#sUT"/><use href="#sCO"/><use href="#sAZ"/><use href="#sNM"/><use href="#sND"/><use href="#sSD"/><use href="#sNE"/><use href="#sKS"/><use href="#sOK"/><use href="#sTX"/><use href="#sMN"/><use href="#sIA"/><use href="#sMO"/><use href="#sAR"/><use href="#sLA"/><use href="#sWI"/><use href="#sIL"/><use href="#sIN"/><use href="#sMI"/><use href="#sOH"/><use href="#sKY"/><use href="#sTN"/><use href="#sMS"/><use href="#sAL"/><use href="#sGA"/><use href="#sFL"/><use href="#sSC"/><use href="#sNC"/><use href="#sVA"/><use href="#sWV"/><use href="#sMD"/><use href="#sDE"/><use href="#sPA"/><use href="#sNJ"/><use href="#sNY"/><use href="#sCT"/><use href="#sRI"/><use href="#sMA"/><use href="#sVT"/><use href="#sNH"/><use href="#sME"/>
</g>
<path d="M604.9,90.3L606.4,95.7L607.1,101.4L608.2,106.9L609.3,109.6" fill="none" stroke="#fff" stroke-width="0.8" stroke-opacity="0.85" stroke-linejoin="round" stroke-linecap="round"/>
<path d="M122.7,166.2L122.0,169.0" fill="none" stroke="#fff" stroke-width="1.0" stroke-opacity="0.95" stroke-linejoin="round" stroke-linecap="round"/>
<path d="M128.7,126.7L128.5,129.2" fill="none" stroke="#fff" stroke-width="1.0" stroke-opacity="0.90" stroke-linejoin="round" stroke-linecap="round"/>
<path d="M221.6,145.5L221.2,148.0" fill="none" stroke="#fff" stroke-width="1.0" stroke-opacity="0.90" stroke-linejoin="round" stroke-linecap="round"/>
<path d="M169.7,223.1L174.0,221.8L175.6,219.2" fill="none" stroke="#fff" stroke-width="0.9" stroke-opacity="0.90" stroke-linejoin="round" stroke-linecap="round"/>
<path d="M91.3,178.4L93.0,178.4L94.0,183.1L94.7,184.5" fill="none" stroke="#fff" stroke-width="1.1" stroke-opacity="0.95" stroke-linejoin="round" stroke-linecap="round"/>
<path d="M93.2,177.7L92.9,174.7L96.5,176.1" fill="none" stroke="#fff" stroke-width="0.8" stroke-opacity="0.90" stroke-linejoin="round" stroke-linecap="round"/>
<path d="M129.8,36.8L130.4,40.6L130.5,45.0L129.0,48.9L125.5,50.8L123.4,51.0" fill="none" stroke="#fff" stroke-width="0.7" stroke-opacity="0.90" stroke-linejoin="round" stroke-linecap="round"/>
<path d="M129.3,41.0L126.5,43.9L123.2,46.5" fill="none" stroke="#fff" stroke-width="0.6" stroke-opacity="0.80" stroke-linejoin="round" stroke-linecap="round"/>
<path d="M132.2,34.6L133.2,37.8L133.4,40.7L130.9,44.4" fill="none" stroke="#fff" stroke-width="0.6" stroke-opacity="0.80" stroke-linejoin="round" stroke-linecap="round"/>
<path d="M127.0,30.2L129.7,29.5L130.0,31.8L127.8,32.6L127.0,30.2" fill="none" stroke="#fff" stroke-width="0.6" stroke-opacity="0.80" stroke-linejoin="round" stroke-linecap="round"/>
<path d="M599.8,207.7L597.1,206.8L594.0,205.7" fill="none" stroke="#fff" stroke-width="0.8" stroke-opacity="0.90" stroke-linejoin="round" stroke-linecap="round"/>
<path d="M598.3,204.1L595.2,202.9L592.5,201.2" fill="none" stroke="#fff" stroke-width="0.7" stroke-opacity="0.90" stroke-linejoin="round" stroke-linecap="round"/>
<path d="M597.8,199.1L593.9,196.6L590.0,194.5" fill="none" stroke="#fff" stroke-width="0.7" stroke-opacity="0.90" stroke-linejoin="round" stroke-linecap="round"/>
<path d="M597.0,194.5L593.1,192.9L588.9,191.5L587.4,190.0L585.1,190.8L584.5,188.4L586.0,185.9" fill="none" stroke="#fff" stroke-width="0.9" stroke-opacity="0.95" stroke-linejoin="round" stroke-linecap="round"/>
<path d="M594.9,185.5L596.9,184.4L598.6,184.7" fill="none" stroke="#fff" stroke-width="0.6" stroke-opacity="0.80" stroke-linejoin="round" stroke-linecap="round"/>
<path d="M582.1,381.7L576.4,387.1L571.5,389.6L565.3,391.9" fill="none" stroke="#70294d" stroke-width="0.7" stroke-opacity="0.55" stroke-dasharray="1.2 1.4"/>

<g id="ak" fill="#d7d7d7">
<path d="M118.6,315.8L121.3,314.6L124.3,314.2L124.7,311.1L130.4,307.7L136.5,305.7L140.5,307.7L143.6,307.3L150.6,309.1L158.8,308.9L162.8,311.1L165.8,330.4L169.9,346.6L171.9,355.1L177.0,357.3L182.1,358.3L185.1,355.1L187.9,356.3L192.0,358.8L198.1,363.6L205.8,368.1L207.6,372.5L203.7,375.8L197.6,373.7L191.6,368.9L186.3,364.0L181.8,361.6L179.0,360.6L175.0,359.2L168.9,357.7L160.8,357.7L156.7,355.7L153.7,357.7L153.1,360.8L149.6,362.8L148.6,359.8L150.6,354.3L147.0,357.7L143.6,363.8L140.5,366.9L136.5,369.9L134.4,373.9L128.4,378.0L123.9,380.4L121.9,381.0L122.7,379.6L126.3,376.4L130.4,371.9L133.4,367.9L136.1,364.8L130.4,365.8L124.3,364.8L121.3,363.8L120.3,359.8L115.2,357.7L113.2,352.7L113.8,348.6L117.2,345.6L122.3,343.6L125.9,340.5L125.9,337.5L121.3,334.4L116.2,333.4L113.2,330.0L115.2,327.4L120.3,326.3L124.3,328.4L125.9,325.9L122.3,322.3L120.3,319.2Z"/>
<path d="M139.5,375.0L141.5,370.9L144.6,368.5L145.0,370.9L142.1,374.6Z"/>
<path d="M102.4,337.5L104.5,337.7L107.1,339.7L106.1,340.3L102.8,338.5Z"/>
<path d="M108.5,356.3L111.3,356.7L111.8,358.8L109.1,358.3Z"/>
<path d="M118.6,381.6L121.1,380.8L121.5,381.8L119.0,382.7Z"/>
<path d="M114.6,383.1L117.4,382.1L117.8,383.1L115.0,384.1Z"/>
<path d="M110.5,384.5L113.4,383.5L113.6,384.5L110.9,385.5Z"/>
<path d="M106.1,386.5L108.9,385.3L109.3,386.3L106.5,387.3Z"/>
<path d="M101.6,387.9L104.1,387.1L104.3,387.9L101.8,388.7Z"/>
</g>
<path d="M186.7,358.3L192.2,363.8L198.3,369.3L202.9,373.3" fill="none" stroke="#fff" stroke-width="0.5" stroke-opacity="0.75"/>
<path d="M189.1,357.5L195.2,363.2L201.3,368.5L205.3,371.3" fill="none" stroke="#fff" stroke-width="0.5" stroke-opacity="0.75"/>
<path d="M192.2,366.9L195.2,367.3L197.2,369.9" fill="none" stroke="#fff" stroke-width="0.5" stroke-opacity="0.75"/>
<g id="hi" fill="#d3d3d3">
<path d="M217.0,340.5L218.9,338.9L222.1,338.7L223.3,340.3L222.6,342.4L219.7,342.8L217.7,342.0Z"/>
<path d="M237.4,348.3L240.2,346.0L242.3,348.7L244.6,351.0L241.8,351.5L238.6,350.6Z"/>
<path d="M250.2,353.4L253.6,353.1L256.8,353.9L256.5,354.8L252.8,354.3L250.5,354.3Z"/>
<path d="M253.6,357.3L255.5,357.2L256.0,358.6L254.3,359.1Z"/>
<path d="M258.0,356.2L259.9,355.9L261.2,357.8L263.9,357.0L266.6,358.4L266.2,360.5L263.1,361.6L261.2,359.7L259.1,358.4Z"/>
<path d="M258.0,361.6L259.3,361.6L259.3,362.5L258.2,362.5Z"/>
<path d="M211.0,342.4L212.6,341.7L212.6,342.7L211.4,343.5Z"/>
<path d="M268.6,366.8L271.0,366.3L275.7,369.2L279.7,372.3L282.5,376.3L279.7,378.6L275.7,381.0L271.8,384.6L269.1,383.4L268.1,379.4L267.8,375.5L266.6,373.1L268.1,370.7Z"/>
</g>

<text x="203.4" y="30.4" font-size="14.8" fill="#163b56" textLength="304.8" lengthAdjust="spacingAndGlyphs">Number of Noncitizens Receiving Food Stamps</text>
<text x="42.9" y="421.4" font-size="9.7" fill="#1c4560" textLength="133" lengthAdjust="spacingAndGlyphs">Source: USDA data from FY 2022.</text>
<text x="262.1" y="419" font-size="9.7" fill="#1c4560" textLength="111.6" lengthAdjust="spacingAndGlyphs">Noncitizens on Food Stamps</text>
<rect x="393.4" y="412.8" width="51.8" height="5.6" fill="url(#lg)"/>
<text x="391.3" y="430.6" font-size="8.5" fill="#1c4560">0</text>
<text x="429" y="430.6" font-size="8.5" fill="#1c4560" textLength="31.7" lengthAdjust="spacingAndGlyphs">273,000</text>
<g id="logo" transform="translate(636.7,412.2) scale(1.15,1)">
<defs>
<pattern id="fv" width="1.25" height="4" patternUnits="userSpaceOnUse"><rect width="1.25" height="4" fill="#fff"/><rect width="0.42" height="4" fill="#8a4160"/></pattern>
<pattern id="fx" width="1.6" height="1.6" patternUnits="userSpaceOnUse" patternTransform="rotate(35)"><rect width="1.6" height="1.6" fill="#fff"/><rect width="1.6" height="0.4" fill="#8a4160"/><rect width="0.4" height="1.6" fill="#8a4160"/></pattern>
<clipPath id="cwl"><path d="M-5.6,-7.5 C-7,-11.5 -10,-13.6 -12.5,-13 C-15.5,-12.2 -17.6,-8.5 -17.9,-3 C-18.2,3 -16.6,8.6 -13.6,10.9 C-11.2,12.4 -8.4,10.6 -6.6,7.4 Z"/></clipPath>
</defs>
</g>
<g id="logotext" transform="translate(636.7,412.2)">
<defs>
<path id="arcTop" d="M -25.2,0 A 25.2,21.7 0 0 1 25.2,0"/>
<path id="arcBot" d="M -29.4,0 A 29.4,25.5 0 0 0 29.4,0"/>
</defs>
<text font-size="5.3" fill="#1a4764" stroke="#1a4764" stroke-width="0.25" text-anchor="middle" letter-spacing="0.75"><textPath href="#arcTop" startOffset="50%">ECONOMIC POLICY</textPath></text>
<text font-size="5.3" fill="#1a4764" stroke="#1a4764" stroke-width="0.25" text-anchor="middle" letter-spacing="0.95"><textPath href="#arcBot" startOffset="50%">INNOVATION CENTER</textPath></text>
</g>
<g transform="translate(636.7,412.2) scale(1.15,1)">
<circle cx="-24.7" cy="-1.3" r="0.75" fill="#5f93b3"/><circle cx="24.7" cy="-1.3" r="0.75" fill="#5f93b3"/>
<!-- wings -->
<g id="wingL">
<g clip-path="url(#cwl)"><rect x="-19" y="-14" width="14" height="10" fill="url(#fx)"/><rect x="-19" y="-4.2" width="14" height="17" fill="url(#fv)"/><path d="M-19,-4.2 L-5,-4.2" stroke="#8a4160" stroke-width="0.5"/></g>
<path d="M-5.6,-7.5 C-7,-11.5 -10,-13.6 -12.5,-13 C-15.5,-12.2 -17.6,-8.5 -17.9,-3 C-18.2,3 -16.6,8.6 -13.6,10.9 C-11.2,12.4 -8.4,10.6 -6.6,7.4" fill="none" stroke="#7d3553" stroke-width="0.6"/>
</g>
<use href="#wingL" transform="scale(-1,1)"/>
<!-- head -->
<path d="M-2.9,-6 C-3.6,-10 -3.2,-14.6 -0.4,-15 C2.4,-15.2 3.2,-11 2.6,-6 Z" fill="#fff" stroke="#7d3553" stroke-width="0.7"/>
<path d="M-2.8,-13.6 L-5,-12.6 L-3.6,-11.6 L-2.4,-12 Z" fill="#7d3553"/>
<!-- legs + pedestal -->
<path d="M-6.2,9.4 L-8.6,14 M6.2,9.4 L8.6,14" stroke="#7d3553" stroke-width="0.6" fill="none"/>
<rect x="-4.2" y="10.3" width="8.4" height="3.3" fill="#b58ba0"/>
<rect x="-4.2" y="10.3" width="8.4" height="0.6" fill="#7d3553"/><rect x="-4.6" y="13.2" width="9.2" height="0.6" fill="#7d3553"/>
<!-- shield -->
<rect x="-7.2" y="-5.6" width="14.3" height="14.9" rx="1.6" ry="1.6" fill="#fff" stroke="#1f4e6b" stroke-width="1.0"/>
<path d="M-3.6,8 C1.2,7.6 4.4,4.2 4.6,-0.8" fill="none" stroke="#86b9d4" stroke-width="0.8"/>
<path d="M3.5,-0.2 L4.7,-2.2 L5.7,-0.1 Z" fill="#86b9d4"/>
<circle cx="4.5" cy="-3.4" r="0.9" fill="#f0a43c"/>
</g>

</svg>
</body></html>
